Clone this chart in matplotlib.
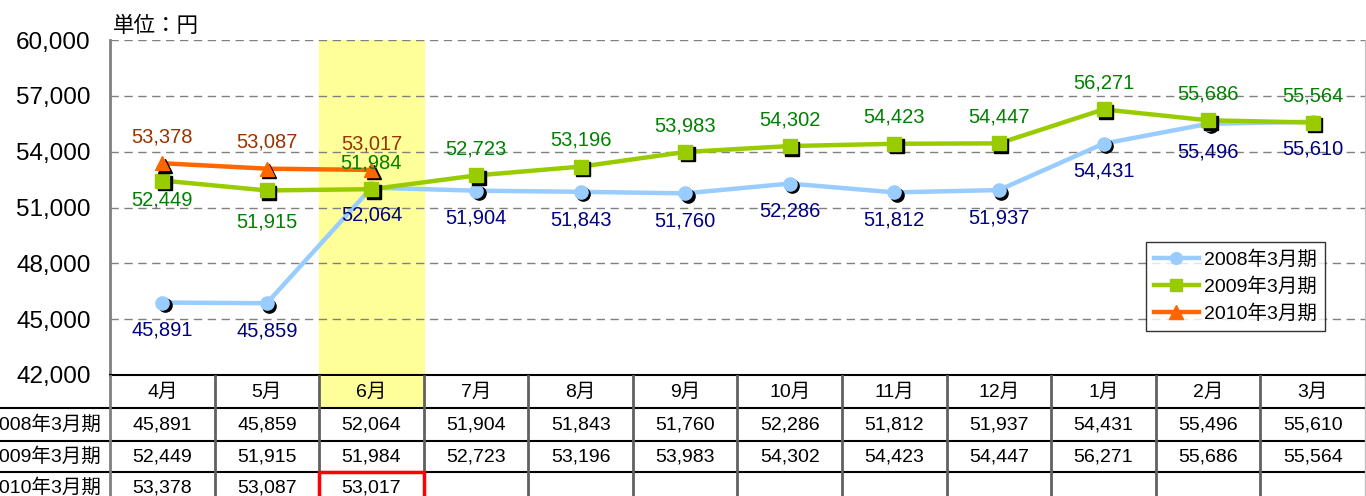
import matplotlib
matplotlib.use("Agg")
import matplotlib.pyplot as plt
import matplotlib.transforms as mtransforms
from matplotlib.patches import Rectangle
from matplotlib.lines import Line2D

plt.rcParams['font.family'] = ['Liberation Sans', 'Noto Sans CJK JP', 'DejaVu Sans']

# data
months = ["4月", "5月", "6月", "7月", "8月", "9月", "10月", "11月", "12月", "1月", "2月", "3月"]
names = ["2008年3月期", "2009年3月期", "2010年3月期"]
v2008 = [45891, 45859, 52064, 51904, 51843, 51760, 52286, 51812, 51937, 54431, 55496, 55610]
v2009 = [52449, 51915, 51984, 52723, 53196, 53983, 54302, 54423, 54447, 56271, 55686, 55564]
v2010 = [53378, 53087, 53017]
series = [v2008, v2009, v2010]

line_cols = ["#99CCFF", "#99CC00", "#FF6600"]
label_cols = ["#000080", "#008000", "#993300"]
markers = ["o", "s", "^"]
msizes = [9.5, 9.5, 10.5]
# label offset in points (negative = below)
label_dy = [-20, 19, 19]
label_fix = {(1, 0): -14, (1, 1): -23}

W, H = 1366, 496
fig = plt.figure(figsize=(W / 100, H / 100), dpi=100)
ax = fig.add_axes([110 / W, 1 - 375 / H, 1255 / W, 335 / H])

ax.set_xlim(-0.5, 11.5)
ax.set_ylim(42000, 60000)
ax.set_yticks(range(42000, 60001, 3000))
ax.set_yticklabels([f"{t:,}" for t in range(42000, 60001, 3000)], fontsize=17.5)
ax.tick_params(axis='y', length=0, pad=14)
ax.set_xticks([])
ax.grid(axis='y', color='#808080', linestyle=(0, (6, 4)), linewidth=1)
ax.set_axisbelow(True)
ax.spines['top'].set_visible(False)
ax.spines['left'].set_color('#808080')
ax.spines['left'].set_linewidth(2)
ax.spines['right'].set_color('#C0C0C0')
ax.spines['bottom'].set_color('black')
ax.spines['bottom'].set_linewidth(1.5)

# highlighted month
ax.axvspan(1.5, 2.5, color='#FFFF99', zorder=0)

shadow = mtransforms.offset_copy(ax.transData, fig=fig, x=2.5, y=-2.5, units='dots')
for k, vals in enumerate(series):
    xs = list(range(len(vals)))
    z = 2 + k
    ax.plot(xs, vals, color=line_cols[k], linewidth=3.2, zorder=z, solid_capstyle='round')
    ax.plot(xs, vals, linestyle='none', marker=markers[k], markersize=msizes[k],
            color='black', transform=shadow, zorder=z + 0.1)
    ax.plot(xs, vals, linestyle='none', marker=markers[k], markersize=msizes[k],
            color=line_cols[k], zorder=z + 0.2)
    for i, v in enumerate(vals):
        dy = label_fix.get((k, i), label_dy[k])
        ax.annotate(f"{v:,}", (i, v), xytext=(0, dy), textcoords='offset points',
                    ha='center', va='center', fontsize=14.5, color=label_cols[k], zorder=10)

# legend
handles = [Line2D([], [], color=line_cols[k], linewidth=3.2, marker=markers[k],
                  markersize=msizes[k] - 1) for k in range(3)]
leg = ax.legend(handles, names, loc='upper left', bbox_to_anchor=(0.8255, 0.397),
                borderaxespad=0, fontsize=14, frameon=True, fancybox=False,
                handlelength=2.3, handletextpad=0.3, labelspacing=0.45,
                borderpad=0.4)
leg.get_frame().set_edgecolor('black')
leg.get_frame().set_linewidth(1)
leg.set_zorder(20)

fig.text(113 / W, 1 - 26 / H, "単位：円", fontsize=15.5, ha='left', va='center')

# data table under the chart
tb = mtransforms.blended_transform_factory(ax.transData, fig.transFigure)
py = lambda p: 1 - p / H
row_lines = [376, 408, 441, 472]
row_mid = [392, 424.5, 456.5, 488]

fig.add_artist(Rectangle((1.5, py(408)), 1, py(376) - py(408), transform=tb,
                         facecolor='#FFFF99', edgecolor='none', zorder=1))
for p in row_lines[1:]:
    fig.add_artist(Line2D([0, 1], [py(p), py(p)], transform=fig.transFigure,
                          color='black', linewidth=1.5, zorder=3))
for b in [x + 0.5 for x in range(11)]:
    fig.add_artist(Line2D([b, b], [py(376), 0], transform=tb,
                          color='#606060', linewidth=2, zorder=3))
fig.add_artist(Line2D([-0.5, -0.5], [py(376), 0], transform=tb,
                      color='#808080', linewidth=2, zorder=3))
fig.add_artist(Line2D([11.5, 11.5], [py(376), 0], transform=tb,
                      color='#C0C0C0', linewidth=1, zorder=3))

for i, m in enumerate(months):
    fig.text(i, py(row_mid[0]), m, transform=tb, ha='center', va='center', fontsize=14)
for k, vals in enumerate(series):
    fig.text(101 / W, py(row_mid[k + 1]), names[k], ha='right', va='center', fontsize=14)
    for i, v in enumerate(vals):
        fig.text(i, py(row_mid[k + 1]), f"{v:,}", transform=tb, ha='center',
                 va='center', fontsize=14)

fig.add_artist(Rectangle((1.5, py(510)), 1, py(472) - py(510), transform=tb,
                         facecolor='none', edgecolor='#FF0000', linewidth=2.5, zorder=5))

fig.savefig("out.png", dpi=100)
